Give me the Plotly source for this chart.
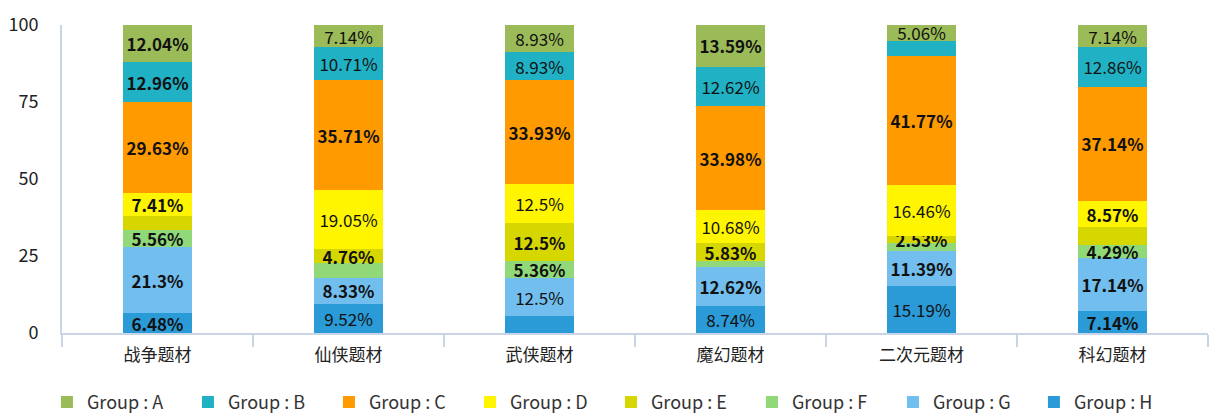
import plotly.graph_objects as go

categories = ["战争题材", "仙侠题材", "武侠题材", "魔幻题材", "二次元题材", "科幻题材"]

group_names = ["Group : A", "Group : B", "Group : C", "Group : D",
               "Group : E", "Group : F", "Group : G", "Group : H"]

group_a = [12.04, 7.14, 8.93, 13.59, 5.06, 7.14]
group_b = [12.96, 10.71, 8.93, 12.62, 5.06, 12.86]
group_c = [29.63, 35.71, 33.93, 33.98, 41.77, 37.14]
group_d = [7.41, 19.05, 12.5, 10.68, 16.46, 8.57]
group_e = [4.62, 4.76, 12.5, 5.83, 2.53, 5.71]
group_f = [5.56, 4.76, 5.36, 1.94, 2.53, 4.29]
group_g = [21.3, 8.33, 12.5, 12.62, 11.39, 17.14]
group_h = [6.48, 9.52, 5.36, 8.74, 15.19, 7.14]

series = [group_a, group_b, group_c, group_d, group_e, group_f, group_g, group_h]

# which value labels are printed in the original (1 = shown)
label_shown = [
    [1, 1, 1, 1, 1, 1],
    [1, 1, 1, 1, 0, 1],
    [1, 1, 1, 1, 1, 1],
    [1, 1, 1, 1, 1, 1],
    [0, 1, 1, 1, 1, 0],
    [1, 0, 1, 0, 0, 1],
    [1, 1, 1, 1, 1, 1],
    [1, 1, 0, 1, 1, 1],
]
# label weight styling
label_bold = [
    [1, 0, 0, 1, 0, 0],
    [1, 0, 0, 0, 0, 0],
    [1, 1, 1, 1, 1, 1],
    [1, 0, 0, 0, 0, 1],
    [0, 1, 1, 1, 1, 0],
    [1, 0, 1, 0, 0, 1],
    [1, 1, 0, 1, 1, 1],
    [1, 0, 0, 0, 0, 1],
]

colors = ["#9BBB59", "#20B2C4", "#FF9A00", "#FFF500",
          "#D6D600", "#90D878", "#72BEEE", "#2B9BD8"]

fig = go.Figure()
# stack bottom-up: H first
for i in reversed(range(len(series))):
    vals = series[i]
    texts = []
    for j, v in enumerate(vals):
        if not label_shown[i][j]:
            texts.append("")
            continue
        s = f"{v:g}%"
        texts.append(f"<b>{s}</b>" if label_bold[i][j] else s)
    fig.add_trace(go.Bar(
        x=categories, y=vals, name=group_names[i],
        marker=dict(color=colors[i], line=dict(width=0)),
        text=texts, textposition="inside", insidetextanchor="middle",
        textangle=0, texttemplate="%{text}",
        textfont=dict(size=17, color="#111111", family="Noto Sans CJK SC"),
        hoverinfo="skip",
    ))

fig.update_layout(
    barmode="stack",
    bargap=0.64,
    width=1213, height=417,
    margin=dict(l=62, r=5, t=25, b=84, autoexpand=False),
    plot_bgcolor="white", paper_bgcolor="white",
    font=dict(family="Noto Sans CJK SC", size=15, color="#222222"),
    uniformtext=dict(mode="show", minsize=17),
    showlegend=True,
    legend=dict(orientation="h", traceorder="reversed",
                x=0.0387, xref="container", xanchor="left",
                y=-0.225, yref="paper", yanchor="middle",
                entrywidth=96, entrywidthmode="pixels",
                font=dict(size=18, color="#333333")),
)
fig.update_xaxes(
    showline=True, linecolor="#C9D5E6", linewidth=2,
    ticks="outside", tickson="boundaries", ticklen=12, tickcolor="#C9D5E6", tickwidth=2,
    ticklabelstandoff=6,
    showgrid=False, tickfont=dict(size=17, color="#222222"),
)
fig.update_yaxes(
    range=[0, 100], tickvals=[0, 25, 50, 75, 100],
    showline=True, linecolor="#C9D5E6", linewidth=2,
    showgrid=False, zeroline=False, ticks="",
    ticklabelstandoff=18, tickfont=dict(size=18, color="#222222"),
)

fig.write_html("out.html")
